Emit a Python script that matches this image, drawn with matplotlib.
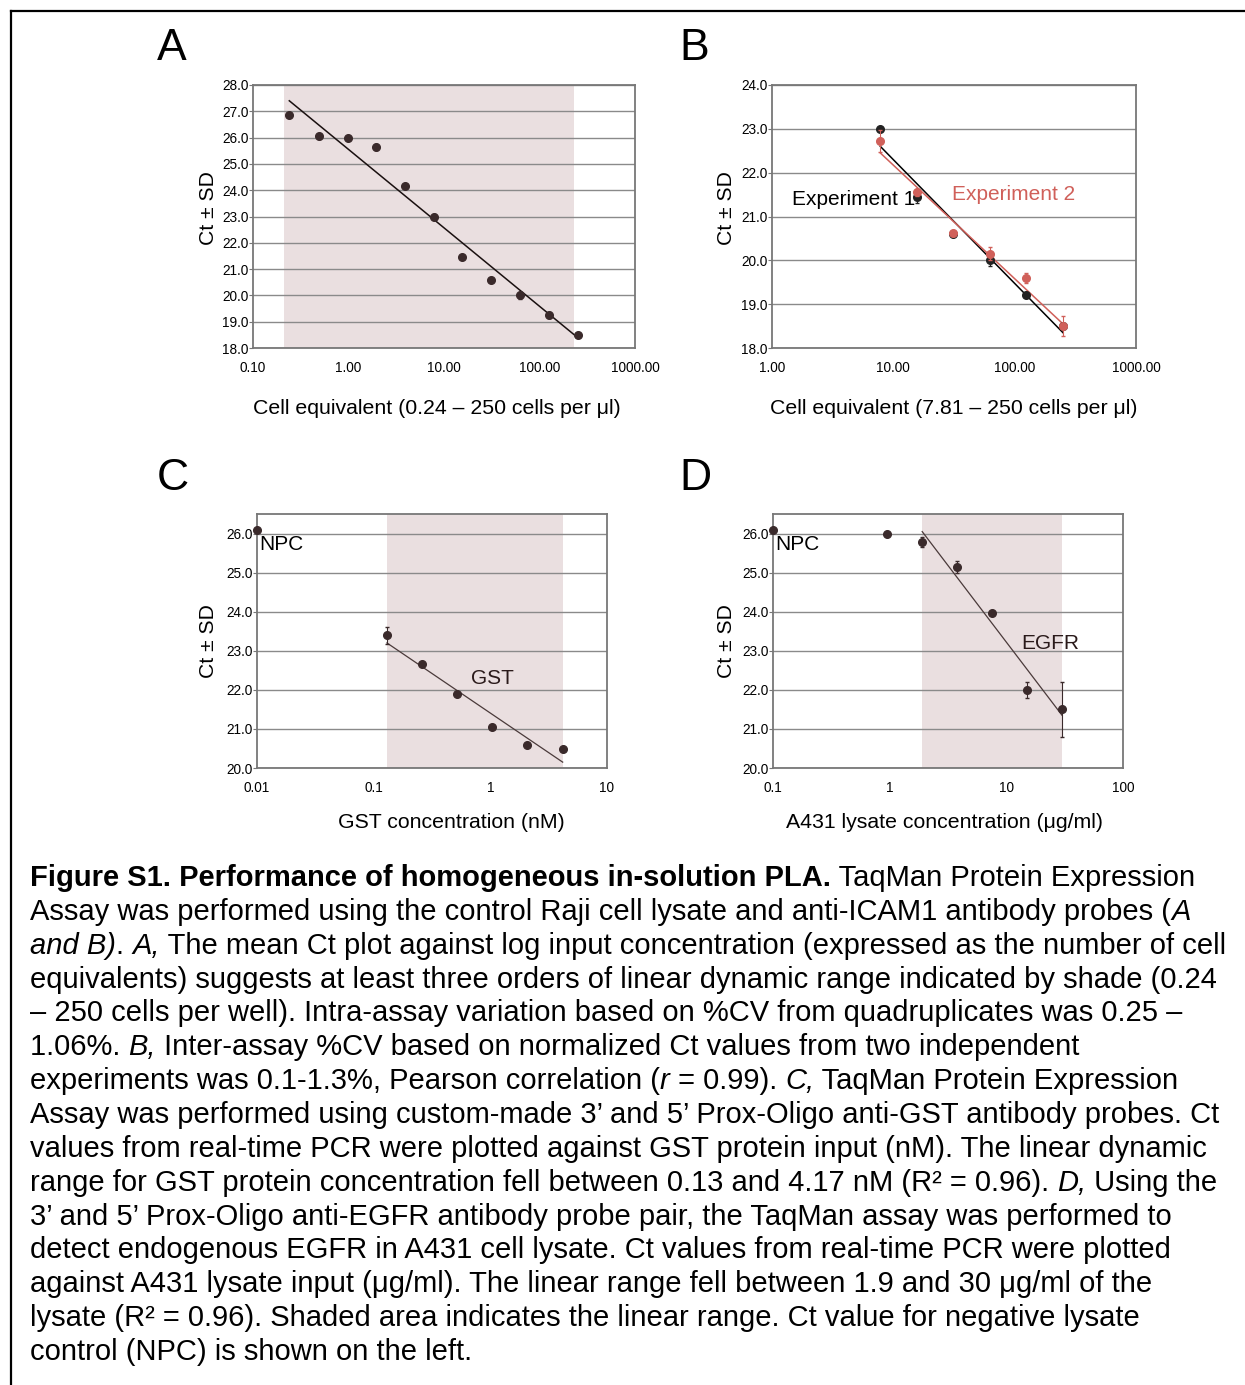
import numpy as np
import matplotlib
matplotlib.use("Agg")
from matplotlib import pyplot as plt
from matplotlib.lines import Line2D
from matplotlib.ticker import FixedLocator, NullLocator

plt.rcParams['font.family'] = ['Liberation Sans', 'DejaVu Sans']

# ---- data ----
# A: cell equivalents vs Ct
cells_a = [0.24, 0.49, 0.98, 1.95, 3.9, 7.81, 15.6, 31.25, 62.5, 125, 250]
ct_a = [26.85, 26.05, 26.0, 25.65, 24.15, 23.0, 21.45, 20.6, 20.0, 19.25, 18.5]
sd_a = [0.05, 0.1, 0.05, 0.12, 0.05, 0.08, 0.05, 0.05, 0.12, 0.1, 0.05]
fit_a_x = [0.24, 250]
fit_a_y = [27.4, 18.4]
shade_a = [0.21, 231]

# B: two experiments
cells_b = [7.81, 15.6, 31.25, 62.5, 125, 250]
ct_b1 = [23.0, 21.45, 20.6, 20.0, 19.22, 18.5]
sd_b1 = [0.03, 0.15, 0.05, 0.12, 0.05, 0.05]
ct_b2 = [22.72, 21.55, 20.62, 20.15, 19.6, 18.5]
sd_b2 = [0.25, 0.08, 0.06, 0.15, 0.12, 0.22]
fit_b1_y = [22.6, 18.35]
fit_b2_y = [22.45, 18.55]

# C: GST
gst_npc = 26.1
gst_conc = [0.13, 0.26, 0.52, 1.04, 2.08, 4.17]
ct_c = [23.4, 22.65, 21.9, 21.05, 20.6, 20.48]
sd_c = [0.22, 0.04, 0.04, 0.04, 0.04, 0.04]
fit_c_y = [23.2, 20.15]

# D: EGFR
egfr_npc = 26.08
lysate = [0.94, 1.9, 3.75, 7.5, 15, 30]
ct_d = [26.0, 25.78, 25.15, 23.97, 22.0, 21.5]
sd_d = [0.03, 0.13, 0.15, 0.04, 0.2, 0.7]
fit_d_x = [1.9, 30]
fit_d_y = [26.05, 21.35]

W, H = 1245, 1385
fig = plt.figure(figsize=(W / 100, H / 100), dpi=100)

dark = '#3a2a2b'
red = '#d0605a'
shade = '#eadfe0'
tick_fs = 9.8
note_fs = 15


def px_axes(l, r, t, b):
    return fig.add_axes([l / W, 1 - b / H, (r - l) / W, (b - t) / H])


def style(ax, xlim, ylim, yticks, xticks, xlabs):
    ax.set_xscale('log')
    ax.set_xlim(*xlim)
    ax.set_ylim(*ylim)
    ax.set_yticks(yticks)
    ax.set_yticklabels(['%.1f' % v for v in yticks], fontsize=tick_fs)
    ax.xaxis.set_major_locator(FixedLocator(xticks))
    ax.xaxis.set_minor_locator(NullLocator())
    ax.set_xticklabels(xlabs, fontsize=tick_fs)
    ax.tick_params(axis='y', length=3, pad=0, color='#777777')
    ax.tick_params(axis='x', length=0, pad=9)
    ax.yaxis.grid(True, color='#8a8a8a', lw=1)
    ax.set_axisbelow(True)
    for s in ax.spines.values():
        s.set_color('#777777')
        s.set_linewidth(1.3)


# A
ax = px_axes(253, 635, 85, 348)
ax.axvspan(shade_a[0], shade_a[1], color=shade, lw=0, zorder=0.5)
ax.plot(fit_a_x, fit_a_y, color='#1a1010', lw=1.1, zorder=3)
ax.errorbar(cells_a, ct_a, yerr=sd_a, fmt='o', ms=5.5, color=dark, ecolor=dark,
            elinewidth=0.8, capsize=1.5, zorder=4)
style(ax, (0.1, 1000), (18, 28), np.arange(18, 28.5, 1.0),
      [0.1, 1, 10, 100, 1000], ['0.10', '1.00', '10.00', '100.00', '1000.00'])

# B
ax = px_axes(772, 1136, 85, 348)
ax.plot([cells_b[0], cells_b[-1]], fit_b1_y, color='black', lw=1.1, zorder=3)
ax.plot([cells_b[0], cells_b[-1]], fit_b2_y, color=red, lw=1.1, zorder=3)
ax.errorbar(cells_b, ct_b1, yerr=sd_b1, fmt='o', ms=5.5, color='#222222', ecolor='#222222',
            elinewidth=0.8, capsize=1.5, zorder=4)
ax.errorbar(cells_b, ct_b2, yerr=sd_b2, fmt='o', ms=5.5, color=red, ecolor=red,
            elinewidth=0.8, capsize=1.5, zorder=5)
style(ax, (1, 1000), (18, 24), np.arange(18, 24.5, 1.0),
      [1, 10, 100, 1000], ['1.00', '10.00', '100.00', '1000.00'])
ax.text(1.46, 21.38, 'Experiment 1', fontsize=note_fs, color='black', va='center', ha='left', zorder=3.5)
ax.text(30.5, 21.5, 'Experiment 2', fontsize=note_fs, color=red, va='center', ha='left', zorder=6)

# C
ax = px_axes(257, 607, 514, 768)
ax.axvspan(gst_conc[0], gst_conc[-1], color=shade, lw=0, zorder=0.5)
ax.plot([gst_conc[0], gst_conc[-1]], fit_c_y, color='#4a3a3a', lw=0.9, zorder=3)
ax.errorbar(gst_conc, ct_c, yerr=sd_c, fmt='o', ms=5.5, color=dark, ecolor=dark,
            elinewidth=0.8, capsize=1.5, zorder=4)
ax.plot([0.01], [gst_npc], 'o', ms=5.5, color=dark, zorder=5, clip_on=False)
style(ax, (0.01, 10), (20, 26.5), np.arange(20, 26.5, 1.0),
      [0.01, 0.1, 1, 10], ['0.01', '0.1', '1', '10'])
ax.text(0.0105, 25.72, 'NPC', fontsize=note_fs, color='black', va='center', ha='left')
ax.text(0.68, 22.3, 'GST', fontsize=note_fs, color='#2a1a1a', va='center', ha='left')

# D
ax = px_axes(773, 1123, 514, 768)
ax.axvspan(fit_d_x[0], fit_d_x[1], color=shade, lw=0, zorder=0.5)
ax.plot(fit_d_x, fit_d_y, color='#4a3a3a', lw=0.9, zorder=3)
ax.errorbar(lysate, ct_d, yerr=sd_d, fmt='o', ms=5.5, color=dark, ecolor=dark,
            elinewidth=0.8, capsize=1.5, zorder=4)
ax.plot([0.1], [egfr_npc], 'o', ms=5.5, color=dark, zorder=5, clip_on=False)
style(ax, (0.1, 100), (20, 26.5), np.arange(20, 26.5, 1.0),
      [0.1, 1, 10, 100], ['0.1', '1', '10', '100'])
ax.text(0.105, 25.72, 'NPC', fontsize=note_fs, color='black', va='center', ha='left')
ax.text(13.5, 23.18, 'EGFR', fontsize=note_fs, color='#2a1a1a', va='center', ha='left')

# axis titles, y labels, panel letters
def ftext(x, y, s, **kw):
    fig.text(x / W, 1 - y / H, s, **kw)

for x, y, s in [(437, 408, 'Cell equivalent (0.24 – 250 cells per μl)'),
                (954, 408, 'Cell equivalent (7.81 – 250 cells per μl)'),
                (451, 823, 'GST concentration (nM)'),
                (944, 823, 'A431 lysate concentration (μg/ml)')]:
    ftext(x, y, s, fontsize=15.3, ha='center', va='center')

for x, y in [(208, 208), (726, 208), (208, 641), (726, 641)]:
    ftext(x, y, 'Ct ± SD', fontsize=15.2, rotation=90, ha='center', va='center')

for x, y, s in [(172, 49, 'A'), (694, 49, 'B'), (173, 479, 'C'), (695, 479, 'D')]:
    ftext(x, y, s, fontsize=32, ha='center', va='center')

# border
fig.add_artist(Line2D([11 / W, 1], [1 - 11 / H, 1 - 11 / H], color='black', lw=1.6))
fig.add_artist(Line2D([11 / W, 11 / W], [0, 1 - 11 / H], color='black', lw=1.6))

# caption
caption = [
    [("Figure S1. Performance of homogeneous in-solution PLA.", 'b'), (" TaqMan Protein Expression", 'n')],
    [("Assay was performed using the control Raji cell lysate and anti-ICAM1 antibody probes (", 'n'), ("A", 'i')],
    [("and B)", 'i'), (". ", 'n'), ("A,", 'i'),
     (" The mean Ct plot against log input concentration (expressed as the number of cell", 'n')],
    [("equivalents) suggests at least three orders of linear dynamic range indicated by shade (0.24", 'n')],
    [("– 250 cells per well). Intra-assay variation based on %CV from quadruplicates was 0.25 –", 'n')],
    [("1.06%. ", 'n'), ("B,", 'i'), (" Inter-assay %CV based on normalized Ct values from two independent", 'n')],
    [("experiments was 0.1-1.3%, Pearson correlation (", 'n'), ("r", 'i'), (" = 0.99). ", 'n'),
     ("C,", 'i'), (" TaqMan Protein Expression", 'n')],
    [("Assay was performed using custom-made 3’ and 5’ Prox-Oligo anti-GST antibody probes. Ct", 'n')],
    [("values from real-time PCR were plotted against GST protein input (nM). The linear dynamic", 'n')],
    [("range for GST protein concentration fell between 0.13 and 4.17 nM (R² = 0.96). ", 'n'),
     ("D,", 'i'), (" Using the", 'n')],
    [("3’ and 5’ Prox-Oligo anti-EGFR antibody probe pair, the TaqMan assay was performed to", 'n')],
    [("detect endogenous EGFR in A431 cell lysate. Ct values from real-time PCR were plotted", 'n')],
    [("against A431 lysate input (μg/ml). The linear range fell between 1.9 and 30 μg/ml of the", 'n')],
    [("lysate (R² = 0.96). Shaded area indicates the linear range. Ct value for negative lysate", 'n')],
    [("control (NPC) is shown on the left.", 'n')],
]

fs = 21
fig.canvas.draw()
rend = fig.canvas.get_renderer()


def props(kind):
    return dict(fontsize=fs, fontweight='bold' if kind == 'b' else 'normal',
                fontstyle='italic' if kind == 'i' else 'normal')


def width(s, kind):
    t = fig.text(0, 0, s + '|', **props(kind))
    w = t.get_window_extent(rend).width
    t.set_text('|')
    w -= t.get_window_extent(rend).width
    t.remove()
    return w


y0, dy = 886, 33.86
for i, line in enumerate(caption):
    x = 30
    for s, kind in line:
        ftext(x, y0 + i * dy, s, va='baseline', ha='left', **props(kind))
        x += width(s, kind)

fig.savefig('out.png', dpi=100)
